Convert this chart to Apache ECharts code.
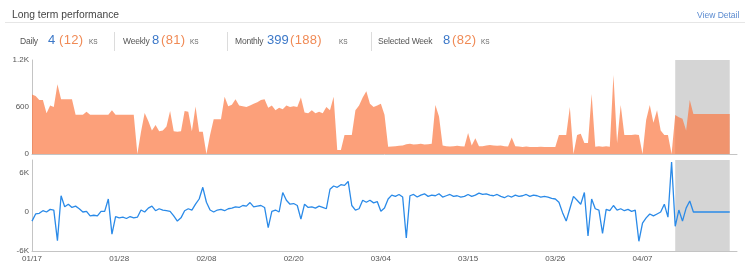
<!DOCTYPE html>
<html>
<head>
<meta charset="utf-8">
<script src="https://cdn.jsdelivr.net/npm/echarts@6/dist/echarts.min.js"></script>
<style>
  html, body { margin: 0; padding: 0; background: #fff; }
  body { width: 750px; height: 266px; position: relative; overflow: hidden; font-family: "Liberation Sans", Arial, sans-serif; }
  #chart { position: absolute; left: 0; top: 0; width: 750px; height: 266px; }
  .abs { position: absolute; white-space: nowrap; }
  .title { left: 12px; top: 8px; font-size: 10.3px; color: #444; line-height: 14px; }
  .detail { left: 697px; top: 9px; font-size: 8.5px; color: #5b8bd0; line-height: 12px; }
  .rule { left: 5px; top: 22px; width: 740px; height: 1px; background: #e6e6e6; }
  .sep { top: 32px; width: 1px; height: 19px; background: #dcdcdc; }
  .row { left: 20px; top: 29px; line-height: 20px; height: 20px; white-space: nowrap; }
  .row span { display: inline-block; overflow: visible; white-space: nowrap; }
  .lbl { font-size: 8.5px; color: #555; letter-spacing: -0.2px; }
  .num { font-size: 13px; color: #3c78c8; }
  .par { font-size: 13px; color: #f08a55; letter-spacing: 0.3px; }
  .ks { font-size: 6.5px; color: #666; }
</style>
</head>
<body>
<div id="chart"></div>
<div class="abs title">Long term performance</div>
<div class="abs detail">View Detail</div>
<div class="abs rule"></div>
<div class="abs sep" style="left:114px"></div>
<div class="abs sep" style="left:227px"></div>
<div class="abs sep" style="left:371px"></div>
<div class="abs row"><span class="lbl" style="width:28px">Daily</span><span class="num" style="width:11px">4</span><span class="par" style="width:30px">(12)</span><span class="ks" style="width:34px">KS</span><span class="lbl" style="width:29px">Weekly</span><span class="num" style="width:9px">8</span><span class="par" style="width:29px">(81)</span><span class="ks" style="width:45px">KS</span><span class="lbl" style="width:32px">Monthly</span><span class="num" style="width:23px">399</span><span class="par" style="width:49px">(188)</span><span class="ks" style="width:39px">KS</span><span class="lbl" style="width:65px">Selected Week</span><span class="num" style="width:9px">8</span><span class="par" style="width:29px">(82)</span><span class="ks" style="width:20px">KS</span></div>
<script>
// x tick labels (one every 24 samples)
const tickLabels = ['01/17', '01/28', '02/08', '02/20', '03/04', '03/15', '03/26', '04/07'];

// top panel: volume (0..1.2K)
const volumeValues = [
  760, 740, 690, 690, 520, 620, 600, 890, 700, 700,
  700, 700, 500, 500, 500, 540, 500, 500, 500, 500,
  500, 500, 560, 500, 500, 500, 500, 500, 500, 0,
  285, 523, 420, 300, 370, 290, 300, 350, 550, 290,
  285, 290, 550, 540, 290, 605, 285, 285, 0, 243,
  443, 443, 443, 730, 610, 630, 700, 620, 610, 600,
  620, 640, 660, 690, 700, 590, 620, 560, 590, 570,
  620, 600, 610, 600, 720, 530, 520, 560, 520, 540,
  520, 600, 560, 730, 50, 50, 243, 243, 243, 560,
  620, 720, 800, 640, 600, 620, 640, 500, 94, 95,
  100, 105, 110, 125, 130, 120, 125, 130, 120, 125,
  130, 625, 480, 110, 100, 95, 100, 105, 100, 95,
  268, 110, 200, 100, 100, 110, 115, 110, 105, 110,
  100, 95, 210, 100, 95, 90, 95, 90, 88, 90,
  92, 88, 90, 88, 90, 243, 243, 243, 600, 0,
  243, 260, 140, 140, 766, 94, 100, 94, 100, 94,
  1009, 140, 625, 243, 243, 243, 250, 243, 0, 434,
  625, 400, 560, 300, 243, 243, 0, 498, 470, 450,
  300, 690, 510, 510, 510, 510, 510, 510, 510, 510,
  510, 510, 510
];

// bottom panel: flow (-6K..8K)
const flowValues = [
  -1400, -300, -200, 200, 0, 400, 300, -4400, 2500, 800,
  1200, 700, 900, 500, 0, 100, -600, -500, -600, 100,
  100, 2000, -3400, -700, -900, -800, -1000, -700, -900, -800,
  300, 0, 600, 900, 200, 500, 300, 200, 100, -600,
  -1400, -900, 200, 500, 300, 1200, 2000, 3800, 1500, 300,
  0, 300, 400, 200, 500, 600, 800, 700, 1000, 900,
  1450, 800, 900, 1000, 700, -2400, 100, 300, 0, 3000,
  1800, 1200, 1300, 1000, -1100, 1200, 700, 800, 600, 900,
  700, 500, 3500, 4000, 3800, 4200, 4100, 4700, 1000, 300,
  500, 1800, 1500, 1800, 1400, 1600, 100, 600, 2000, 2600,
  2400, 2700, 2300, -4000, 2500, 2700, 2300, 2600, 2800, 2400,
  2600, 2500, 2800, 2300, 2500, 2700, 2400, 2500, 2300, 2400,
  2700, 2400, 2600, 2900, 2700, 2800, 2600, 2500, 2700, 2400,
  2200, 2500, 2300, 2600, 2400, 2500, 2700, 2400, 2600, 2500,
  2300, 2400, 2300, 2100, 2000, 1500, -100, -1400, 500, 2400,
  1800, 1200, 3000, -3700, 2000, 500, 300, -3300, 400, 200,
  1000, 300, 500, 200, 400, 100, 300, -4500, -1700, -900,
  -300, -600, -300, 0, 1200, -800, 7700, -2200, 300, -1400,
  600, 1700, 0, 0, 0, 0, 0, 0, 0, 0,
  0, 0, 0
];

// selected week range (sample indices)
const selectedRange = [177, 192];

const chart = echarts.init(document.getElementById('chart'), null, { renderer: 'canvas' });

function kFmt(v) {
  if (v === 0) return '0';
  if (Math.abs(v) >= 1000) return (v / 1000) + 'K';
  return String(v);
}
function xFmt(v) {
  if (v % 24 !== 0) return '';
  return tickLabels[v / 24] || '';
}

const axisLineStyle = { color: '#c4c4c4', width: 1 };
const font = '"Liberation Sans", Arial, sans-serif';

const option = {
  animation: false,
  grid: [
    { left: 32, right: 13, top: 60, height: 94 },
    { left: 32, right: 13, top: 160, height: 91 }
  ],
  xAxis: [
    { gridIndex: 0, type: 'value', min: 0, max: 194, interval: 24,
      axisLine: { show: true, lineStyle: axisLineStyle }, axisTick: { show: false },
      axisLabel: { show: false }, splitLine: { show: false } },
    { gridIndex: 1, type: 'value', min: 0, max: 194, interval: 24,
      axisLine: { show: true, onZero: false, lineStyle: axisLineStyle }, axisTick: { show: false },
      axisLabel: { formatter: xFmt, fontSize: 8, color: '#555', margin: 4, fontFamily: font, showMaxLabel: false, hideOverlap: false },
      splitLine: { show: false } }
  ],
  yAxis: [
    { gridIndex: 0, type: 'value', min: 0, max: 1200, interval: 600,
      axisLine: { show: true, lineStyle: axisLineStyle }, axisTick: { show: false },
      axisLabel: { formatter: kFmt, fontSize: 8, color: '#555', margin: 3, fontFamily: font },
      splitLine: { show: false } },
    { gridIndex: 1, type: 'value', min: -6000, max: 8000, interval: 6000,
      axisLine: { show: true, onZero: false, lineStyle: axisLineStyle }, axisTick: { show: false },
      axisLabel: { formatter: kFmt, fontSize: 8, color: '#555', margin: 3, fontFamily: font, showMaxLabel: false },
      splitLine: { show: false } }
  ],
  series: [
    {
      type: 'line', xAxisIndex: 0, yAxisIndex: 0,
      data: volumeValues.map((v, i) => [i, v]),
      showSymbol: false, symbol: 'none',
      lineStyle: { width: 0 },
      itemStyle: { color: '#fb7742' },
      areaStyle: { color: '#fb7742', opacity: 0.7 },
      markArea: { silent: true, itemStyle: { color: '#d5d5d5' },
        data: [[{ xAxis: selectedRange[0] }, { xAxis: selectedRange[1] }]] },
      z: 3
    },
    {
      type: 'line', xAxisIndex: 1, yAxisIndex: 1,
      data: flowValues.map((v, i) => [i, v]),
      showSymbol: false, symbol: 'none',
      lineStyle: { width: 1.3, color: '#2a8ae8' },
      itemStyle: { color: '#2a8ae8' },
      markArea: { silent: true, itemStyle: { color: '#d5d5d5' },
        data: [[{ xAxis: selectedRange[0] }, { xAxis: selectedRange[1] }]] },
      z: 3
    }
  ]
};
chart.setOption(option);
</script>
</body>
</html>
